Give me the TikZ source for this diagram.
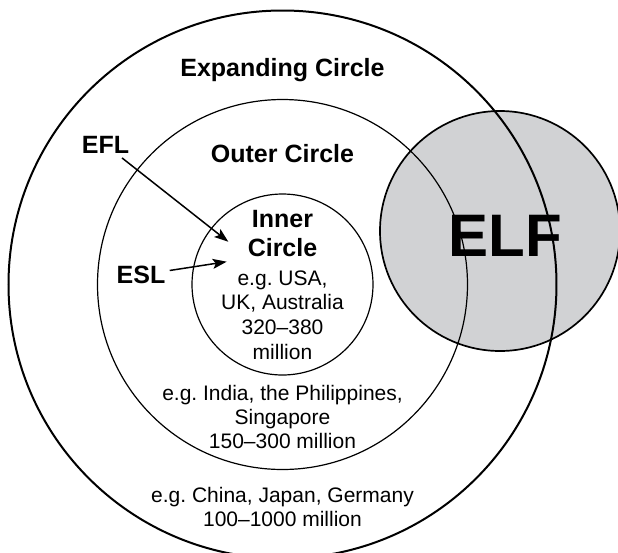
\documentclass[tikz,border=0pt]{standalone}
\usepackage{fontspec}
\setmainfont{Liberation Sans}
\usetikzlibrary{arrows.meta}
\definecolor{elfgray}{RGB}{209,210,212}
\frenchspacing

\begin{document}
\begin{tikzpicture}[x=0.5pt,y=-0.5pt,
    lbl/.style={font=\fontsize{12.5}{14.5}\selectfont\bfseries,inner sep=2pt,anchor=base},
    head/.style={font=\fontsize{12.5}{14.5}\selectfont\bfseries,inner sep=0pt,anchor=north,align=center},
    txt/.style={font=\fontsize{10.5}{12.35}\selectfont,inner sep=0pt,anchor=north,align=center},
    ptr/.style={-{Stealth[length=7pt,width=5pt,inset=1.5pt]},line width=0.75pt}]
\useasboundingbox (0,0) rectangle (618,553);
\coordinate (ctr) at (282.5,284.5);
\coordinate (elfc) at (500,231);
\fill[elfgray] (elfc) circle[radius=120];
\draw[line width=0.85pt] (elfc) circle[radius=120];
\draw[line width=1pt] (ctr) circle[radius=274];
\draw[line width=0.6pt]
    (ctr) circle[radius=185]
    (ctr) circle[radius=90.5];
\node[lbl] (expanding) at (282.5,76) {Expanding Circle};
\node[lbl] (outer) at (282.5,162.5) {Outer Circle};
\node[head] (inner) at (282.5,210.1) {Inner\\Circle};
\node[txt] (innertxt) at (282.5,270) {e.g. USA,\\UK, Australia\\320--380\\million};
\node[txt,font=\fontsize{10.5}{12}\selectfont] (outertxt) at (282.5,385) {e.g. India, the Philippines,\\Singapore\\150--300 million};
\node[txt,font=\fontsize{10.5}{12}\selectfont] (expandtxt) at (282.5,487) {e.g. China, Japan, Germany\\100--1000 million};
\node[anchor=base,inner sep=0pt,font=\fontsize{30}{36}\selectfont\bfseries] (elf) at (505,256) {ELF};
\node[lbl] (efl) at (105.5,153.5) {EFL};
\node[lbl] (esl) at (141,283.5) {ESL};
\coordinate (efltip) at (228.3,241.7);
\coordinate (esltip) at (226.7,261.7);
\draw[ptr] (efl) -- (efltip);
\draw[ptr] (esl) -- (esltip);
\end{tikzpicture}
\end{document}
